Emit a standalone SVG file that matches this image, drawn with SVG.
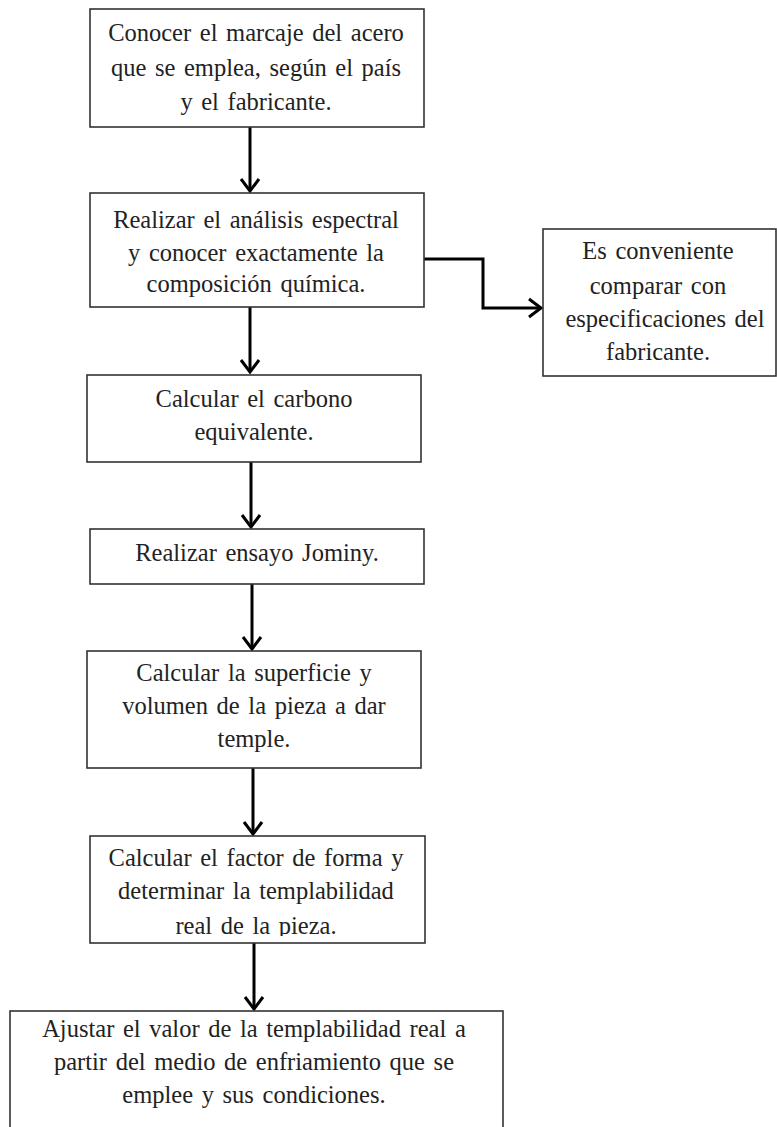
<svg xmlns="http://www.w3.org/2000/svg" width="777" height="1127" viewBox="0 0 777 1127">
<style>
.box{fill:#fff;stroke:#333;stroke-width:1.6}
.t{font-family:"Liberation Serif","Times New Roman",serif;font-size:24.5px;word-spacing:2.5px;fill:#222;text-anchor:middle}
.c{fill:none;stroke:#000;stroke-width:3}
</style>
<defs>
<marker id="ah" markerUnits="userSpaceOnUse" orient="auto" markerWidth="24" markerHeight="24" refX="0" refY="0" viewBox="-14 -12 16 24" overflow="visible">
<path d="M-12,-9 L0,0 L-12,9" fill="none" stroke="#000" stroke-width="3"/>
</marker>
<clipPath id="c6"><rect x="90" y="836" width="335" height="100"/></clipPath>
</defs>
<rect width="777" height="1127" fill="#fff"/>
<g id="connectors">
<path class="c" d="M250,127 V191" marker-end="url(#ah)"/>
<path class="c" d="M250,307 V372" marker-end="url(#ah)"/>
<path class="c" d="M251,462 V527" marker-end="url(#ah)"/>
<path class="c" d="M252,584 V649" marker-end="url(#ah)"/>
<path class="c" d="M253,768 V834" marker-end="url(#ah)"/>
<path class="c" d="M254,943 V1009" marker-end="url(#ah)"/>
<path class="c" d="M424,259 H483 V308 H541" marker-end="url(#ah)"/>
</g>
<g id="n1">
<rect class="box" x="90" y="9" width="334" height="118"/>
<text class="t" x="256" y="41">Conocer el marcaje del acero</text>
<text class="t" x="256" y="76">que se emplea, según el país</text>
<text class="t" x="256" y="110">y el fabricante.</text>
</g>
<g id="n2">
<rect class="box" x="90" y="193" width="334" height="114"/>
<text class="t" x="256" y="228">Realizar el análisis espectral</text>
<text class="t" x="256" y="261">y conocer exactamente la</text>
<text class="t" x="256" y="292">composición química.</text>
</g>
<g id="n_side">
<rect class="box" x="543" y="229" width="233" height="147"/>
<text class="t" x="658" y="259">Es conveniente</text>
<text class="t" x="658" y="294">comparar con</text>
<text class="t" x="665" y="327">especificaciones del</text>
<text class="t" x="658" y="360">fabricante.</text>
</g>
<g id="n3">
<rect class="box" x="87" y="375" width="334" height="87"/>
<text class="t" x="254" y="407">Calcular el carbono</text>
<text class="t" x="254" y="440">equivalente.</text>
</g>
<g id="n4">
<rect class="box" x="90" y="529" width="334" height="55"/>
<text class="t" x="257" y="561">Realizar ensayo Jominy.</text>
</g>
<g id="n5">
<rect class="box" x="87" y="651" width="334" height="117"/>
<text class="t" x="254" y="681">Calcular la superficie y</text>
<text class="t" x="254" y="714">volumen de la pieza a dar</text>
<text class="t" x="254" y="747">temple.</text>
</g>
<g id="n6">
<rect class="box" x="90" y="836" width="335" height="107"/>
<g clip-path="url(#c6)">
<text class="t" x="256" y="866">Calcular el factor de forma y</text>
<text class="t" x="256" y="899">determinar la templabilidad</text>
<text class="t" x="256" y="934">real de la pieza.</text>
</g>
</g>
<g id="n7">
<rect class="box" x="10" y="1011" width="493" height="130"/>
<text class="t" x="254" y="1037">Ajustar el valor de la templabilidad real a</text>
<text class="t" x="254" y="1070">partir del medio de enfriamiento que se</text>
<text class="t" x="254" y="1103">emplee y sus condiciones.</text>
</g>
</svg>
